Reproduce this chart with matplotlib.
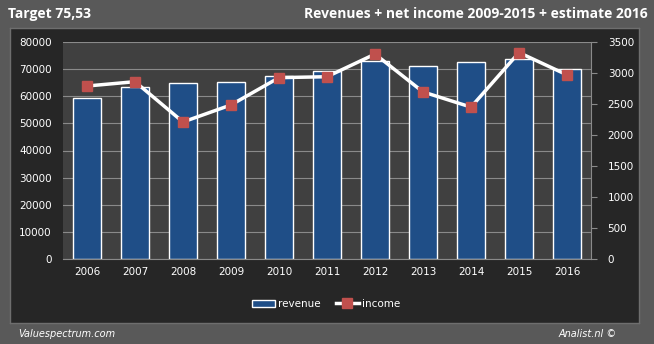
import matplotlib
matplotlib.use("Agg")
import matplotlib.pyplot as plt
from matplotlib.patches import Rectangle
from matplotlib.lines import Line2D
import numpy as np

years = ["2006", "2007", "2008", "2009", "2010", "2011", "2012", "2013", "2014", "2015", "2016"]
revenue = [59200, 63300, 64800, 65100, 67400, 69400, 73100, 71000, 72500, 73600, 70200]
income = [2790, 2860, 2210, 2485, 2925, 2940, 3305, 2695, 2450, 3330, 2970]

left_ticks = [0, 10000, 20000, 30000, 40000, 50000, 60000, 70000, 80000]
right_ticks = [0, 500, 1000, 1500, 2000, 2500, 3000, 3500]

W, H = 654, 344
fig = plt.figure(figsize=(W / 100, H / 100), dpi=100)
fig.patch.set_facecolor("#595959")

# dark panel as background axes
bg = fig.add_axes([10 / W, 1 - 323 / H, (639 - 10) / W, (323 - 28) / H], zorder=-10)
bg.set_facecolor("#262626")
bg.set_xticks([])
bg.set_yticks([])
for s in bg.spines.values():
    s.set_color("#6e6e6e")
    s.set_linewidth(1.0)

ax = fig.add_axes([63 / W, 1 - 259 / H, (591 - 63) / W, (259 - 42) / H], zorder=1)
ax.set_facecolor("#404040")
x = np.arange(len(years))
ax.bar(x, revenue, width=0.57, color="#1f4e87", edgecolor="white", linewidth=1.0, zorder=2)
ax.set_xlim(-0.5, len(years) - 0.5)
ax.set_ylim(0, 80000)
ax.set_yticks(left_ticks)
ax.set_yticklabels([str(t) for t in left_ticks])
ax.set_xticks(x)
ax.set_xticklabels(years)
ax.yaxis.grid(True, color="#8a8a8a", linewidth=0.8, zorder=1)
ax.set_axisbelow(True)
for s in ["top", "right", "left"]:
    ax.spines[s].set_visible(False)
ax.spines["bottom"].set_color("#8a8a8a")
ax.tick_params(axis="both", colors="white", labelsize=7.5, length=0, pad=6)
ax.tick_params(axis="y", pad=8)

ax2 = ax.twinx()
ax2.plot(x, income, color="white", linewidth=2.5, marker="s", markersize=7.5,
         markerfacecolor="#c0504d", markeredgecolor="#c0504d", zorder=3)
ax2.set_ylim(0, 3500)
ax2.set_yticks(right_ticks)
ax2.set_yticklabels([str(t) for t in right_ticks])
for s in ["top", "left", "bottom"]:
    ax2.spines[s].set_visible(False)
ax2.spines["right"].set_color("#8a8a8a")
ax2.tick_params(axis="y", colors="white", labelsize=7.5, length=4, pad=8, color="#8a8a8a")

handles = [Rectangle((0, 0), 1, 1, facecolor="#1f4e87", edgecolor="white", linewidth=1.0),
           Line2D([0], [0], color="white", linewidth=2.5, marker="s", markersize=7.5,
                  markerfacecolor="#c0504d", markeredgecolor="#c0504d")]
fig.legend(handles, ["revenue", "income"], loc="center", bbox_to_anchor=(326 / W, 1 - 304 / H),
           ncol=2, frameon=False, fontsize=7.5, labelcolor="white", handlelength=2.2,
           handletextpad=0.3, columnspacing=1.5)

fig.text(8 / W, 1 - 14 / H, "Target 75,53", color="white", fontsize=10, fontweight="bold",
         ha="left", va="center", family="Open Sans")
fig.text(648 / W, 1 - 14 / H, "Revenues + net income 2009-2015 + estimate 2016", color="white",
         fontsize=10, fontweight="bold", ha="right", va="center", family="Open Sans")
fig.text(18 / W, 1 - 334 / H, "Valuespectrum.com", color="white", fontsize=7, style="italic",
         ha="left", va="center")
fig.text(617 / W, 1 - 334 / H, "Analist.nl ©", color="white", fontsize=7, style="italic",
         ha="right", va="center")

fig.savefig("out.png", dpi=100, facecolor=fig.get_facecolor())
